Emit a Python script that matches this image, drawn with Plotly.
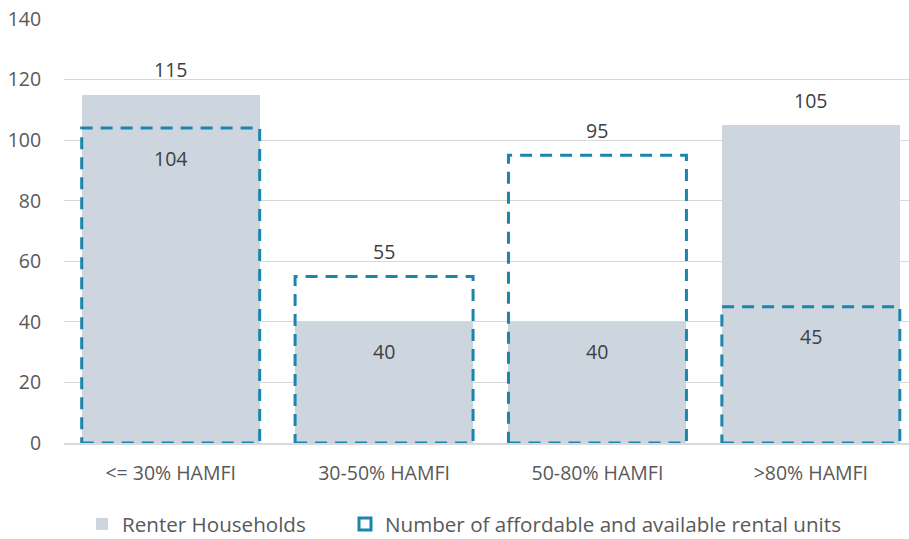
import plotly.graph_objects as go

categories = ["<= 30% HAMFI", "30-50% HAMFI", "50-80% HAMFI", ">80% HAMFI"]
renter_households = [115, 40, 40, 105]
affordable_units = [104, 55, 95, 45]
y_ticks = [0, 20, 40, 60, 80, 100, 120, 140]

BAR_W = 0.834
FILL = "#cdd5df"
BLUE = "#1b85ad"
FONT = "Open Sans"
FS = 19.5
LEG_FS = 20.6

fig = go.Figure()

fig.add_trace(go.Bar(
    x=categories, y=renter_households, width=BAR_W,
    marker=dict(color=FILL, line=dict(width=0)),
    name="Renter Households", hoverinfo="skip", legend="legend",
))

# dashed outlines for available rental units, one rectangle per category
for i, v in enumerate(affordable_units):
    fig.add_shape(
        type="rect", xref="x", yref="y",
        x0=i - BAR_W / 2, x1=i + BAR_W / 2, y0=0, y1=v,
        line=dict(color=BLUE, width=3, dash="12px,8px"),
        fillcolor="rgba(0,0,0,0)", layer="above",
        name="Number of affordable and available rental units",
        showlegend=(i == 0), legend="legend2",
    )

# value labels: larger value above its mark, smaller one just inside the top
for i, (r, a) in enumerate(zip(renter_households, affordable_units)):
    hi, lo = max(r, a), min(r, a)
    fig.add_annotation(x=i, y=hi, text=str(hi), showarrow=False,
                       yanchor="middle", yshift=25,
                       font=dict(family=FONT, size=FS, color="#404040"))
    fig.add_annotation(x=i, y=lo, text=str(lo), showarrow=False,
                       yanchor="middle", yshift=-30,
                       font=dict(family=FONT, size=FS, color="#404040"))

legend_common = dict(orientation="h", xref="container", yref="container",
                     xanchor="left", y=15 / 539, yanchor="middle",
                     font=dict(family=FONT, size=LEG_FS, color="#595959"),
                     itemwidth=30)

fig.update_layout(
    width=909, height=539,
    margin=dict(l=64, r=0, t=19, b=96, autoexpand=False),
    paper_bgcolor="white", plot_bgcolor="white",
    font=dict(family=FONT, size=FS, color="#595959"),
    showlegend=True,
    legend=dict(x=82 / 909, **legend_common),
    legend2=dict(x=345 / 909, **legend_common),
    xaxis=dict(
        type="category", range=[-0.5, 3.46], showgrid=False, automargin=False,
        showline=True, linecolor="#d9d9d9", linewidth=2,
        ticks="outside", ticklen=12, tickcolor="rgba(0,0,0,0)",
        tickfont=dict(family=FONT, size=FS, color="#595959"),
    ),
    yaxis=dict(
        range=[0, 140], tickvals=y_ticks, showgrid=True, automargin=False,
        gridcolor="#d9d9d9", gridwidth=1, zeroline=False, showline=False,
        ticks="outside", ticklen=18, tickcolor="rgba(0,0,0,0)",
        tickfont=dict(family=FONT, size=FS, color="#595959"),
    ),
    bargap=0,
)

fig.write_html("out.html")
